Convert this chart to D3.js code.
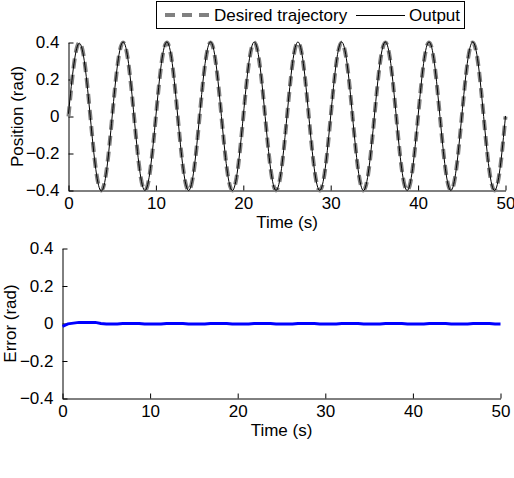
<!DOCTYPE html>
<html>
<head>
<meta charset="utf-8">
<script src="https://cdn.jsdelivr.net/npm/d3@7"></script>
<style>
  body { margin: 0; background: #fff; }
  svg { font-family: "Liberation Sans", Arial, sans-serif; }
  .axis path, .axis line { stroke: #000; }
  .axis text { font-size: 17px; fill: #000; }
</style>
</head>
<body>
<div id="chart"></div>
<script>
// sample times (s)
const times = [
  0, 0.625, 1.25, 1.875, 2.5, 3.125, 3.75, 4.375,
  5, 5.625, 6.25, 6.875, 7.5, 8.125, 8.75, 9.375,
  10, 10.625, 11.25, 11.875, 12.5, 13.125, 13.75, 14.375,
  15, 15.625, 16.25, 16.875, 17.5, 18.125, 18.75, 19.375,
  20, 20.625, 21.25, 21.875, 22.5, 23.125, 23.75, 24.375,
  25, 25.625, 26.25, 26.875, 27.5, 28.125, 28.75, 29.375,
  30, 30.625, 31.25, 31.875, 32.5, 33.125, 33.75, 34.375,
  35, 35.625, 36.25, 36.875, 37.5, 38.125, 38.75, 39.375,
  40, 40.625, 41.25, 41.875, 42.5, 43.125, 43.75, 44.375,
  45, 45.625, 46.25, 46.875, 47.5, 48.125, 48.75, 49.375,
  50
];

// desired trajectory (rad)
const desired = [
  0, 0.283, 0.4, 0.283, 0, -0.283, -0.4, -0.283,
  0, 0.283, 0.4, 0.283, 0, -0.283, -0.4, -0.283,
  0, 0.283, 0.4, 0.283, 0, -0.283, -0.4, -0.283,
  0, 0.283, 0.4, 0.283, 0, -0.283, -0.4, -0.283,
  0, 0.283, 0.4, 0.283, 0, -0.283, -0.4, -0.283,
  0, 0.283, 0.4, 0.283, 0, -0.283, -0.4, -0.283,
  0, 0.283, 0.4, 0.283, 0, -0.283, -0.4, -0.283,
  0, 0.283, 0.4, 0.283, 0, -0.283, -0.4, -0.283,
  0, 0.283, 0.4, 0.283, 0, -0.283, -0.4, -0.283,
  0, 0.283, 0.4, 0.283, 0, -0.283, -0.4, -0.283,
  0
];

// measured output (rad)
const output = [
  0.015, 0.285, 0.396, 0.277, -0.006, -0.286, -0.403, -0.286,
  0.003, 0.286, 0.403, 0.286, 0, -0.283, -0.4, -0.28,
  0.003, 0.286, 0.403, 0.286, 0, -0.283, -0.4, -0.28,
  0.003, 0.286, 0.403, 0.286, 0, -0.283, -0.4, -0.28,
  0.003, 0.286, 0.403, 0.286, 0, -0.283, -0.4, -0.28,
  0.003, 0.286, 0.403, 0.286, 0, -0.283, -0.4, -0.28,
  0.003, 0.286, 0.403, 0.286, 0, -0.283, -0.4, -0.28,
  0.003, 0.286, 0.403, 0.286, 0, -0.283, -0.4, -0.28,
  0.003, 0.286, 0.403, 0.286, 0, -0.283, -0.4, -0.28,
  0.003, 0.286, 0.403, 0.286, 0, -0.283, -0.4, -0.28,
  0.003
];

// tracking error (rad)
const error = [
  -0.015, -0.002, 0.002, 0.006, 0.006, 0.006, 0.006, 0,
  -0.003, -0.003, -0.003, 0, 0, 0, 0, -0.003,
  -0.003, -0.003, -0.003, 0, 0, 0, 0, -0.003,
  -0.003, -0.003, -0.003, 0, 0, 0, 0, -0.003,
  -0.003, -0.003, -0.003, 0, 0, 0, 0, -0.003,
  -0.003, -0.003, -0.003, 0, 0, 0, 0, -0.003,
  -0.003, -0.003, -0.003, 0, 0, 0, 0, -0.003,
  -0.003, -0.003, -0.003, 0, 0, 0, 0, -0.003,
  -0.003, -0.003, -0.003, 0, 0, 0, 0, -0.003,
  -0.003, -0.003, -0.003, 0, 0, 0, 0, -0.003,
  -0.003
];

const xTicks = [0, 10, 20, 30, 40, 50];
const yTicks = [-0.4, -0.2, 0, 0.2, 0.4];
const legendLabels = ['Desired trajectory', 'Output'];

const width = 514;
const height = 478;

const svg = d3.select('#chart')
  .append('svg')
  .attr('width', width)
  .attr('height', height);

const yFormat = (d) => (d === 0 ? '0' : d3.format('.1f')(d).replace('-', '\u2212'));

// draw one subplot, box off, ticks pointing in
function subplot(left, right, top, bottom, yLabel, yLabelX) {
  const x = d3.scaleLinear().domain([0, 50]).range([left, right]);
  const y = d3.scaleLinear().domain([-0.4, 0.4]).range([bottom, top]);

  const g = svg.append('g');

  g.append('g')
    .attr('class', 'axis')
    .attr('transform', 'translate(0,' + bottom + ')')
    .call(d3.axisBottom(x).tickValues(xTicks).tickSize(-5).tickSizeOuter(0).tickPadding(6))
    .call((a) => a.selectAll('text').attr('dy', '0.72em'));

  g.append('g')
    .attr('class', 'axis')
    .attr('transform', 'translate(' + left + ',0)')
    .call(d3.axisLeft(y).tickValues(yTicks).tickFormat(yFormat).tickSize(-5).tickSizeOuter(0).tickPadding(9));

  svg.append('text')
    .attr('x', (left + right) / 2)
    .attr('y', bottom + 37)
    .attr('text-anchor', 'middle')
    .style('font-size', '17px')
    .text('Time (s)');

  svg.append('text')
    .attr('transform', 'translate(' + yLabelX + ',' + (top + bottom) / 2 + ') rotate(-90)')
    .attr('text-anchor', 'middle')
    .style('font-size', '17px')
    .text(yLabel);

  return { x, y, g };
}

// top: position
const p1 = subplot(68.5, 505.5, 42.5, 190.5, 'Position (rad)', 23);

const line1 = d3.line()
  .x((d, i) => p1.x(times[i]))
  .y((d) => p1.y(d))
  .curve(d3.curveNatural);

p1.g.append('path')
  .datum(desired)
  .attr('d', line1)
  .attr('fill', 'none')
  .attr('stroke', '#808080')
  .attr('stroke-width', 4)
  .attr('stroke-dasharray', '10,6');

p1.g.append('path')
  .datum(output)
  .attr('d', line1)
  .attr('fill', 'none')
  .attr('stroke', '#000')
  .attr('stroke-width', 1);

// bottom: error
const p2 = subplot(62.5, 500.5, 248.5, 398.5, 'Error (rad)', 16);

const line2 = d3.line()
  .x((d, i) => p2.x(times[i]))
  .y((d) => p2.y(d));

p2.g.append('path')
  .datum(error)
  .attr('d', line2)
  .attr('fill', 'none')
  .attr('stroke', '#0000ff')
  .attr('stroke-width', 3);

// legend
const legend = svg.append('g');
legend.append('rect')
  .attr('x', 156.5)
  .attr('y', 1.5)
  .attr('width', 308)
  .attr('height', 27)
  .attr('fill', '#fff')
  .attr('stroke', '#000');

legend.append('line')
  .attr('x1', 165).attr('x2', 214)
  .attr('y1', 15).attr('y2', 15)
  .attr('stroke', '#808080')
  .attr('stroke-width', 4)
  .attr('stroke-dasharray', '10,7');

legend.append('text')
  .attr('x', 214).attr('y', 21)
  .style('font-size', '17px')
  .text(legendLabels[0]);

legend.append('line')
  .attr('x1', 356).attr('x2', 405)
  .attr('y1', 15.5).attr('y2', 15.5)
  .attr('stroke', '#000')
  .attr('stroke-width', 1);

legend.append('text')
  .attr('x', 409).attr('y', 21)
  .style('font-size', '17px')
  .text(legendLabels[1]);
</script>
</body>
</html>
